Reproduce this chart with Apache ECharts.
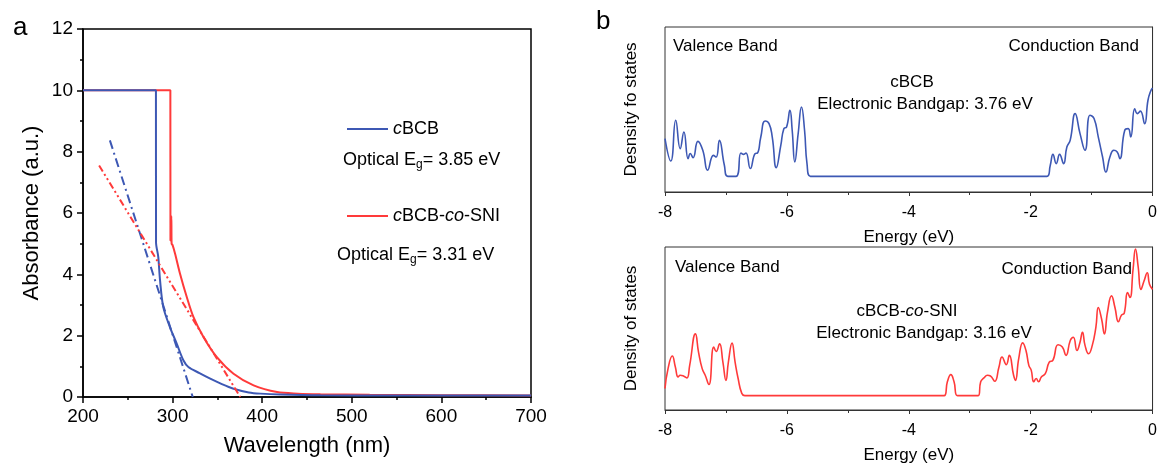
<!DOCTYPE html>
<html>
<head>
<meta charset="utf-8">
<script src="https://cdn.jsdelivr.net/npm/echarts@6/dist/echarts.min.js"></script>
<style>
  html, body { margin: 0; padding: 0; background: #fff; }
  #chart { width: 1160px; height: 465px; }
</style>
</head>
<body>
<div id="chart"></div>
<script>
(function() {
    'use strict';

    // ---- panel a : absorbance ----
    var wlCbcb  = [200, 281.4, 281.5, 284, 286, 289.6, 297, 304.6, 312, 317.6, 330, 342, 355, 368, 385, 398, 420, 465, 550, 700];
    var absCbcb = [10, 10, 5.05, 4.57, 3.8, 2.93, 2.28, 1.74, 1.2, 0.98, 0.78, 0.6, 0.42, 0.27, 0.15, 0.11, 0.08, 0.055, 0.05, 0.05];

    var wlSni  = [200, 297.5, 297.6, 298.3, 298.6, 298.9, 300, 302.7, 308.3, 315.8, 323.2, 334.4, 349.4, 368, 390.4, 416.6, 440, 465, 520, 600, 700];
    var absSni = [10, 10, 5.1, 5.1, 5.9, 5.0, 4.95, 4.68, 4.02, 3.26, 2.61, 1.96, 1.3, 0.76, 0.38, 0.16, 0.11, 0.09, 0.07, 0.06, 0.05];

    // tangent (Tauc-like) extrapolations
    var fitCbcbX = [230, 322.5];
    var fitCbcbY = [8.37, 0];
    var fitSniX  = [218, 375.5];
    var fitSniY  = [7.55, 0];

    var wlTicks  = [200, 300, 400, 500, 600, 700];
    var absTicks = [0, 2, 4, 6, 8, 10, 12];

    // ---- panel b : density of states (arbitrary units) ----
    var eCbcb = [-8.0, -7.905, -7.824, -7.75, -7.69, -7.62, -7.585, -7.54, -7.46, -7.38, -7.30, -7.205, -7.16, -7.107, -7.026, -6.97,
                 -6.835, -6.754, -6.716, -6.672, -6.60, -6.52, -6.483, -6.428, -6.358, -6.293, -6.24, -6.174, -6.10, -6.05, -6.005,
                 -5.95, -5.913, -5.87, -5.815, -5.76, -5.71, -5.67, -5.614,
                 -1.732, -1.678, -1.634, -1.58, -1.525, -1.46, -1.406, -1.352, -1.27, -1.19, -1.108, -1.027, -0.96, -0.89, -0.82,
                 -0.766, -0.70, -0.636, -0.58, -0.537, -0.456, -0.40, -0.358, -0.293, -0.25, -0.20, -0.13, -0.075, -0.03, 0];
    var dosCbcb = [0.324, 0.188, 0.435, 0.263, 0.364, 0.202, 0.233, 0.208, 0.307, 0.253, 0.132, 0.222, 0.212, 0.313, 0.162, 0.095,
                   0.095, 0.236, 0.228, 0.236, 0.142, 0.233, 0.236, 0.333, 0.43, 0.414, 0.333, 0.148, 0.283, 0.384, 0.394,
                   0.495, 0.374, 0.182, 0.354, 0.515, 0.374, 0.172, 0.095,
                   0.095, 0.162, 0.228, 0.172, 0.228, 0.172, 0.273, 0.313, 0.475, 0.354, 0.253, 0.465, 0.445, 0.333, 0.212,
                   0.121, 0.212, 0.253, 0.242, 0.202, 0.374, 0.384, 0.333, 0.505, 0.475, 0.49, 0.414, 0.556, 0.612, 0.63];

    var eSni = [-8.0, -7.95, -7.88, -7.83, -7.785, -7.75, -7.69, -7.64, -7.595, -7.50, -7.45, -7.39, -7.34, -7.28, -7.20, -7.16,
                -7.105, -7.05, -7.0, -6.96, -6.90, -6.85, -6.80, -6.74, -6.69,
                -3.42, -3.367, -3.31, -3.257, -3.20, -2.86, -2.82, -2.767, -2.71, -2.66, -2.59, -2.52, -2.47, -2.40, -2.35,
                -2.28, -2.25, -2.196, -2.13, -2.077, -2.03, -1.99, -1.95, -1.91, -1.87, -1.825, -1.76, -1.695, -1.636, -1.55,
                -1.48, -1.42, -1.35, -1.30, -1.24, -1.19, -1.15, -1.107, -1.05, -0.99, -0.93, -0.89, -0.836, -0.79, -0.74,
                -0.673, -0.617, -0.56, -0.51, -0.465, -0.41, -0.37, -0.32, -0.28, -0.237, -0.19, -0.14, -0.087, -0.05, 0];
    var dosSni = [0.132, 0.254, 0.331, 0.264, 0.203, 0.213, 0.207, 0.197, 0.274, 0.467, 0.355, 0.254, 0.213, 0.156, 0.386, 0.359,
                  0.406, 0.294, 0.182, 0.294, 0.41, 0.294, 0.193, 0.102, 0.088,
                  0.088, 0.173, 0.217, 0.173, 0.088, 0.088, 0.173, 0.197, 0.213, 0.209, 0.176, 0.264, 0.325, 0.278, 0.335,
                  0.213, 0.182, 0.315, 0.412, 0.365, 0.274, 0.243, 0.173, 0.193, 0.173, 0.203, 0.223, 0.294, 0.304, 0.40,
                  0.386, 0.335, 0.426, 0.446, 0.365, 0.416, 0.477, 0.395, 0.345, 0.395, 0.507, 0.629, 0.558, 0.467, 0.599,
                  0.70, 0.629, 0.541, 0.582, 0.594, 0.72, 0.69, 0.862, 0.988, 0.882, 0.74, 0.791, 0.842, 0.771, 0.74];

    var energyTicks = [-8, -6, -4, -2, 0];

    var BLUE = '#3d58b4';
    var RED = '#ff3a3a';
    var FONT = '"Liberation Sans", Arial, sans-serif';

    function zip(xs, ys) {
        var out = [];
        for (var i = 0; i < xs.length; i++) {
            out.push([xs[i], ys[i]]);
        }
        return out;
    }

    function dosXAxis(gridIndex) {
        return {
            gridIndex: gridIndex,
            type: 'value',
            min: energyTicks[0],
            max: energyTicks[energyTicks.length - 1],
            interval: 2,
            name: 'Energy (eV)',
            nameLocation: 'middle',
            nameGap: 37,
            nameTextStyle: { fontFamily: FONT, fontSize: 17, color: '#000' },
            axisLine: { show: true, onZero: false, lineStyle: { color: '#333', width: 1 } },
            axisTick: { show: true, length: 4, lineStyle: { color: '#333' } },
            minorTick: { show: true, splitNumber: 2, length: 3, lineStyle: { color: '#333' } },
            axisLabel: { fontFamily: FONT, fontSize: 16, color: '#000', margin: 13 },
            splitLine: { show: false }
        };
    }

    function dosYAxis(gridIndex, title) {
        return {
            gridIndex: gridIndex,
            type: 'value',
            min: 0,
            max: 1,
            name: title,
            nameLocation: 'middle',
            nameGap: 25,
            nameTextStyle: { fontFamily: FONT, fontSize: 17, color: '#000' },
            axisLine: { show: true, lineStyle: { color: '#333', width: 1 } },
            axisTick: { show: false },
            axisLabel: { show: false },
            splitLine: { show: false }
        };
    }

    var chart = echarts.init(document.getElementById('chart'), null, { renderer: 'canvas' });

    var option = {
        backgroundColor: '#fff',
        animation: false,
        grid: [
            { left: 83, top: 29, width: 448, height: 368, show: true, borderColor: '#000', borderWidth: 1.5, backgroundColor: 'transparent' },
            { left: 665, top: 27, width: 490, height: 165, show: true, borderColor: '#333', borderWidth: 1, backgroundColor: 'transparent' },
            { left: 665, top: 247, width: 490, height: 165, show: true, borderColor: '#333', borderWidth: 1, backgroundColor: 'transparent' }
        ],
        xAxis: [
            {
                gridIndex: 0,
                type: 'value',
                min: wlTicks[0],
                max: wlTicks[wlTicks.length - 1],
                interval: 100,
                name: 'Wavelength (nm)',
                nameLocation: 'middle',
                nameGap: 38,
                nameTextStyle: { fontFamily: FONT, fontSize: 22, color: '#000' },
                axisLine: { show: true, onZero: false, lineStyle: { color: '#000', width: 1.5 } },
                axisTick: { show: true, length: 6, lineStyle: { color: '#000', width: 1.5 } },
                minorTick: { show: true, splitNumber: 2, length: 3, lineStyle: { color: '#000', width: 1.5 } },
                axisLabel: { fontFamily: FONT, fontSize: 19, color: '#000', margin: 10 },
                splitLine: { show: false }
            },
            dosXAxis(1),
            dosXAxis(2)
        ],
        yAxis: [
            {
                gridIndex: 0,
                type: 'value',
                min: absTicks[0],
                max: absTicks[absTicks.length - 1],
                interval: 2,
                name: 'Absorbance (a.u.)',
                nameLocation: 'middle',
                nameGap: 40,
                nameTextStyle: { fontFamily: FONT, fontSize: 22, color: '#000' },
                axisLine: { show: true, lineStyle: { color: '#000', width: 1.5 } },
                axisTick: { show: true, length: 6, lineStyle: { color: '#000', width: 1.5 } },
                minorTick: { show: true, splitNumber: 2, length: 3, lineStyle: { color: '#000', width: 1.5 } },
                axisLabel: { fontFamily: FONT, fontSize: 19, color: '#000', margin: 10 },
                splitLine: { show: false }
            },
            dosYAxis(1, 'Desnsity fo states'),
            dosYAxis(2, 'Density of states')
        ],
        legend: [
            {
                data: ['cBCB'],
                left: 342, top: 114,
                icon: 'rect', itemWidth: 41, itemHeight: 2, itemGap: 5,
                textStyle: { fontFamily: FONT, fontSize: 18, color: '#000', lineHeight: 20,
                    rich: { it: { fontStyle: 'italic', fontFamily: FONT, fontSize: 18 } } },
                formatter: function() { return '{it|c}BCB'; }
            },
            {
                data: ['cBCB-co-SNI'],
                left: 342, top: 201,
                icon: 'rect', itemWidth: 41, itemHeight: 2, itemGap: 5,
                textStyle: { fontFamily: FONT, fontSize: 18, color: '#000', lineHeight: 20,
                    rich: { it: { fontStyle: 'italic', fontFamily: FONT, fontSize: 18 } } },
                formatter: function() { return '{it|c}BCB-{it|co}-SNI'; }
            }
        ],
        series: [
            {
                name: 'cBCB-co-SNI', type: 'line', xAxisIndex: 0, yAxisIndex: 0,
                data: zip(wlSni, absSni), showSymbol: false, smooth: 0.3,
                lineStyle: { color: RED, width: 2 }, itemStyle: { color: RED }
            },
            {
                name: 'cBCB', type: 'line', xAxisIndex: 0, yAxisIndex: 0,
                data: zip(wlCbcb, absCbcb), showSymbol: false, smooth: 0.3,
                lineStyle: { color: BLUE, width: 2 }, itemStyle: { color: BLUE }
            },
            {
                name: 'fit cBCB', type: 'line', xAxisIndex: 0, yAxisIndex: 0,
                data: zip(fitCbcbX, fitCbcbY), showSymbol: false,
                lineStyle: { color: BLUE, width: 2, type: [9, 4, 2, 4] }
            },
            {
                name: 'fit cBCB-co-SNI', type: 'line', xAxisIndex: 0, yAxisIndex: 0,
                data: zip(fitSniX, fitSniY), showSymbol: false,
                lineStyle: { color: RED, width: 2, type: [7, 3, 2, 3, 2, 3] }
            },
            {
                name: 'DOS cBCB', type: 'line', xAxisIndex: 1, yAxisIndex: 1,
                data: zip(eCbcb, dosCbcb), showSymbol: false, smooth: 0.5,
                lineStyle: { color: BLUE, width: 1.6 }
            },
            {
                name: 'DOS cBCB-co-SNI', type: 'line', xAxisIndex: 2, yAxisIndex: 2,
                data: zip(eSni, dosSni), showSymbol: false, smooth: 0.5,
                lineStyle: { color: RED, width: 1.6 }
            }
        ],
        graphic: [
            { type: 'text', left: 13, top: 15, style: { text: 'a', font: '26px ' + FONT, fill: '#000' } },
            { type: 'text', left: 596, top: 9, style: { text: 'b', font: '26px ' + FONT, fill: '#000' } },

            { type: 'text', left: 343, top: 151, style: { text: 'Optical E{sub|g}= 3.85 eV', font: '18px ' + FONT, fill: '#000',
                rich: { sub: { fontSize: 12, fontFamily: FONT, padding: [10, 0, 0, 0] } } } },
            { type: 'text', left: 337, top: 246, style: { text: 'Optical E{sub|g}= 3.31 eV', font: '18px ' + FONT, fill: '#000',
                rich: { sub: { fontSize: 12, fontFamily: FONT, padding: [10, 0, 0, 0] } } } },

            { type: 'text', left: 673, top: 38, style: { text: 'Valence Band', font: '17px ' + FONT, fill: '#000' } },
            { type: 'text', right: 21, top: 38, style: { text: 'Conduction Band', font: '17px ' + FONT, fill: '#000' } },
            { type: 'text', x: 912, y: 82, style: { text: 'cBCB', font: '17px ' + FONT, fill: '#000', align: 'center', verticalAlign: 'middle' } },
            { type: 'text', x: 925, y: 104, style: { text: 'Electronic Bandgap: 3.76 eV', font: '17px ' + FONT, fill: '#000', align: 'center', verticalAlign: 'middle' } },

            { type: 'text', left: 675, top: 259, style: { text: 'Valence Band', font: '17px ' + FONT, fill: '#000' } },
            { type: 'text', right: 28, top: 261, style: { text: 'Conduction Band', font: '17px ' + FONT, fill: '#000' } },
            { type: 'text', x: 907, y: 311, style: { text: 'cBCB-{it|co}-SNI', font: '17px ' + FONT, fill: '#000', align: 'center', verticalAlign: 'middle',
                rich: { it: { fontStyle: 'italic', fontFamily: FONT, fontSize: 17 } } } },
            { type: 'text', x: 924, y: 333, style: { text: 'Electronic Bandgap: 3.16 eV', font: '17px ' + FONT, fill: '#000', align: 'center', verticalAlign: 'middle' } }
        ]
    };

    chart.setOption(option);
})();
</script>
</body>
</html>
